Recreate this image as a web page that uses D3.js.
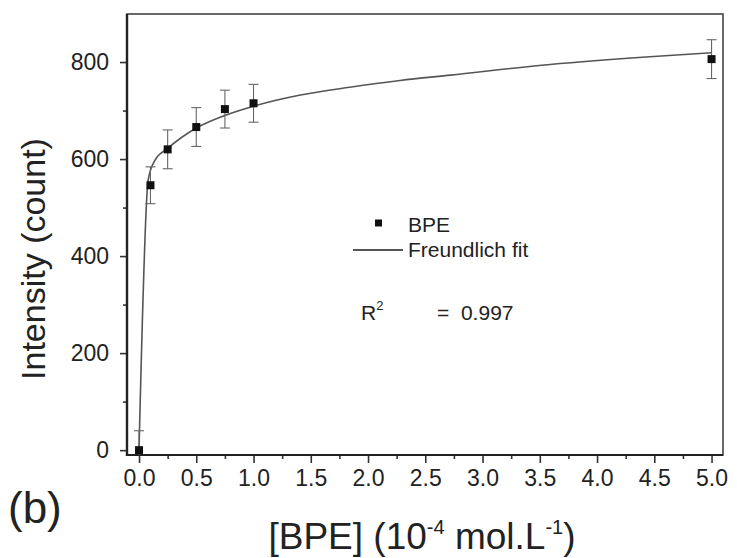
<!DOCTYPE html>
<html>
<head>
<meta charset="utf-8">
<script src="https://cdn.jsdelivr.net/npm/d3@7"></script>
<style>
  html, body { margin: 0; padding: 0; background: #fff; }
  svg { display: block; font-family: "Liberation Sans", Arial, sans-serif; }
</style>
</head>
<body>
<svg id="chart" width="737" height="558"></svg>
<script>
// ---- data ----
const concX = [0, 0.1, 0.25, 0.5, 0.75, 1.0, 5.0];            // [BPE] (10^-4 mol/L)
const intensity = [0, 546, 620, 666, 703, 715, 806];           // counts
const errBars = [40, 38, 40, 40, 39, 39, 40];                  // ± error
const fitX = [0, 0.08, 0.14, 0.25, 0.5, 0.75, 1.0, 1.41, 1.84, 2.28, 2.72, 3.59, 4.46, 5.0];
const fitY = [0, 557, 598, 622, 664, 690, 709, 732, 748, 762, 773, 795, 811, 819];
const xTicks = [0, 0.5, 1.0, 1.5, 2.0, 2.5, 3.0, 3.5, 4.0, 4.5, 5.0];
const xMinor = [0.25, 0.75, 1.25, 1.75, 2.25, 2.75, 3.25, 3.75, 4.25, 4.75];
const yTicks = [0, 200, 400, 600, 800];
const yMinor = [100, 300, 500, 700];
const legendLabels = ["BPE", "Freundlich fit"];
const r2Value = "0.997";

// ---- layout ----
const L = 127, R = 723, T = 14, B = 455;
const svg = d3.select("#chart");
const x = d3.scaleLinear().domain([-0.105, 5.1]).range([L, R]);
const y = d3.scaleLinear().domain([-10, 899]).range([B, T]);
const ink = "#222";

svg.append("defs").append("clipPath").attr("id", "plotclip")
  .append("rect").attr("x", L).attr("y", T).attr("width", R - L).attr("height", B - T);

// axes (ticks + labels)
const fmtX = d3.format(".1f");
const gx = svg.append("g").attr("transform", `translate(0,${B})`)
  .call(d3.axisBottom(x).tickValues(xTicks).tickSize(8).tickPadding(6).tickFormat(fmtX));
const gxm = svg.append("g").attr("transform", `translate(0,${B})`)
  .call(d3.axisBottom(x).tickValues(xMinor).tickSize(4).tickFormat(""));
const gy = svg.append("g").attr("transform", `translate(${L},0)`)
  .call(d3.axisLeft(y).tickValues(yTicks).tickSize(7).tickPadding(11).tickFormat(d3.format("d")));
const gym = svg.append("g").attr("transform", `translate(${L},0)`)
  .call(d3.axisLeft(y).tickValues(yMinor).tickSize(4).tickFormat(""));
[gx, gxm, gy, gym].forEach(g => {
  g.select(".domain").remove();
  g.selectAll(".tick line").attr("stroke", "#333").attr("stroke-width", 1.6);
  g.selectAll("text").attr("fill", ink).attr("font-size", 23)
    .attr("font-family", "Liberation Sans, Arial, sans-serif");
});
gx.selectAll("text").attr("dy", "0.72em");

// frame
svg.append("rect").attr("x", L).attr("y", T).attr("width", R - L).attr("height", B - T)
  .attr("fill", "none").attr("stroke", "#444").attr("stroke-width", 1.6);
svg.append("line").attr("x1", L).attr("x2", L).attr("y1", T).attr("y2", B + 1)
  .attr("stroke", "#222").attr("stroke-width", 2.4);
svg.append("line").attr("x1", L - 1).attr("x2", R).attr("y1", B).attr("y2", B)
  .attr("stroke", "#222").attr("stroke-width", 2.2);

const plot = svg.append("g").attr("clip-path", "url(#plotclip)");

// fit curve
const fitData = fitX.map((v, i) => [v, fitY[i]]);
plot.append("path").datum(fitData)
  .attr("fill", "none").attr("stroke", "#555").attr("stroke-width", 1.6)
  .attr("d", d3.line().x(d => x(d[0])).y(d => y(d[1])).curve(d3.curveMonotoneX));

// error bars
const pts = concX.map((v, i) => ({ x: v, y: intensity[i], e: errBars[i] }));
const eb = plot.append("g").attr("stroke", "#666").attr("stroke-width", 1.1);
pts.forEach(p => {
  eb.append("line").attr("x1", x(p.x)).attr("x2", x(p.x)).attr("y1", y(p.y - p.e)).attr("y2", y(p.y + p.e));
  [p.y - p.e, p.y + p.e].forEach(v => {
    eb.append("line").attr("x1", x(p.x) - 5).attr("x2", x(p.x) + 5).attr("y1", y(v)).attr("y2", y(v));
  });
});

// markers
const ms = 8;
plot.selectAll("rect.pt").data(pts).enter().append("rect").attr("class", "pt")
  .attr("x", d => x(d.x) - ms / 2).attr("y", d => y(d.y) - ms / 2)
  .attr("width", ms).attr("height", ms).attr("fill", "#111");

// legend
svg.append("rect").attr("x", 375).attr("y", 219.5).attr("width", 7).attr("height", 7).attr("fill", "#111");
svg.append("text").attr("x", 408).attr("y", 232).attr("font-size", 21).attr("fill", ink).text(legendLabels[0]);
svg.append("line").attr("x1", 353).attr("x2", 403).attr("y1", 250).attr("y2", 250)
  .attr("stroke", "#555").attr("stroke-width", 2);
svg.append("text").attr("x", 408).attr("y", 257).attr("font-size", 21).attr("fill", ink).text(legendLabels[1]);

// R^2
const rt = svg.append("text").attr("x", 361).attr("y", 320).attr("font-size", 21).attr("fill", ink);
rt.append("tspan").text("R");
rt.append("tspan").attr("font-size", 13).attr("dy", -10).text("2");
svg.append("text").attr("x", 437).attr("y", 320).attr("font-size", 21).attr("fill", ink)
  .attr("xml:space", "preserve").text("=  " + r2Value);

// axis titles
const xt = svg.append("text").attr("x", 422).attr("y", 549).attr("text-anchor", "middle")
  .attr("font-size", 37).attr("fill", ink);
xt.append("tspan").text("[BPE] (10");
xt.append("tspan").attr("font-size", 20).attr("dy", -15).text("-4");
xt.append("tspan").attr("dy", 15).text(" mol.L");
xt.append("tspan").attr("font-size", 20).attr("dy", -15).text("-1");
xt.append("tspan").attr("dy", 15).text(")");

svg.append("text").attr("transform", "translate(45,259) rotate(-90)")
  .attr("text-anchor", "middle").attr("font-size", 34).attr("fill", ink)
  .text("Intensity (count)");

// panel label
svg.append("text").attr("x", 8).attr("y", 523).attr("font-size", 44).attr("fill", ink).text("(b)");
</script>
</body>
</html>
